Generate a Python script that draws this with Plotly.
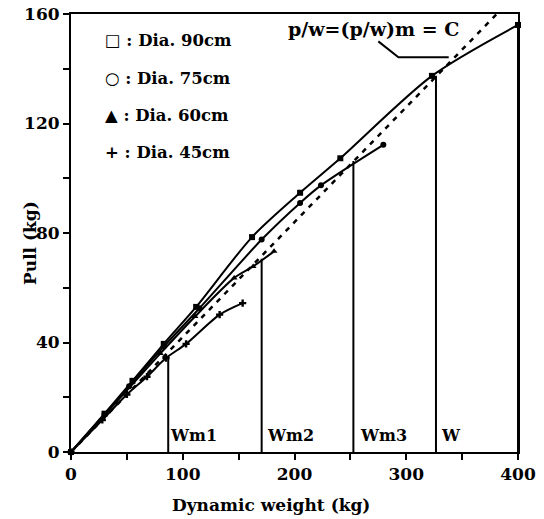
import plotly.graph_objects as go

# ---- data ----
dia90_x = [0, 30, 55, 83, 112, 162, 205, 241, 323, 400]
dia90_y = [0, 14, 26, 39.5, 53, 78.5, 94.7, 107.3, 137.4, 156]

dia75_x = [0, 30, 52, 83, 115, 170.6, 205, 223.7, 279.5]
dia75_y = [0, 13.8, 24, 38.5, 52.5, 77.6, 91, 97.4, 112.2]

dia60_x = [0, 40, 80, 111, 146, 163, 181.7]
dia60_y = [0, 18, 36, 49.5, 63.6, 67.8, 73.3]

dia45_x = [0, 28, 50, 68, 85, 103, 133, 153.6]
dia45_y = [0, 11.7, 21, 27.5, 34.3, 39.5, 50.2, 54.4]

c_x = [0, 381]
c_y = [0, 160]

wm_x = [87, 170.6, 252.7, 326.6, 400]
wm_top = [35, 70.6, 106.3, 137.4, 156]
wm_labels = ["Wm1", "Wm2", "Wm3", "W"]
wm_label_x = [90, 177, 259.5, 332]

leader_x = [275, 293, 338]
leader_y = [150, 144.2, 144.2]

legend_labels = ["\u25a1 : Dia. 90cm", "\u25cb : Dia. 75cm", "\u25b2 : Dia. 60cm", "+ : Dia. 45cm"]
legend_y = [150.2, 136.6, 123.1, 109.5]

x_ticks = [0, 50, 100, 150, 200, 250, 300, 350, 400]
x_ticktext = ["0", "", "100", "", "200", "", "300", "", "400"]
y_ticks = [0, 20, 40, 60, 80, 100, 120, 140, 160]
y_ticktext = ["0", "", "40", "", "80", "", "120", "", "160"]

FONT = "DejaVu Serif"

fig = go.Figure()

series = [
    (dia90_x, dia90_y, "square"),
    (dia75_x, dia75_y, "circle"),
    (dia60_x, dia60_y, "triangle-up"),
    (dia45_x, dia45_y, "cross"),
]
for xs, ys, sym in series:
    fig.add_trace(go.Scatter(
        x=xs, y=ys, mode="lines+markers",
        line=dict(color="black", width=2, shape="spline", smoothing=0.8),
        marker=dict(symbol=sym, size=6, color="black"),
        cliponaxis=False, showlegend=False, hoverinfo="skip"))

fig.add_trace(go.Scatter(
    x=c_x, y=c_y, mode="lines",
    line=dict(color="black", width=2.5, dash="5px,6px"),
    showlegend=False, hoverinfo="skip"))

for wx, wt in zip(wm_x, wm_top):
    fig.add_trace(go.Scatter(
        x=[wx, wx], y=[0, wt], mode="lines",
        line=dict(color="black", width=2),
        showlegend=False, hoverinfo="skip"))

fig.add_trace(go.Scatter(
    x=leader_x, y=leader_y, mode="lines",
    line=dict(color="black", width=2),
    showlegend=False, hoverinfo="skip"))

for lab, lx in zip(wm_labels, wm_label_x):
    fig.add_annotation(x=lx - 3, y=6, text="<b>" + lab + "</b>", showarrow=False, xanchor="left",
                       yanchor="middle", font=dict(family=FONT, size=16, color="black"))

for lab, ly in zip(legend_labels, legend_y):
    fig.add_annotation(x=29, y=ly, text="<b>" + lab + "</b>", showarrow=False, xanchor="left",
                       yanchor="middle", font=dict(family=FONT, size=16.5, color="black"))

fig.add_annotation(x=271, y=154.5, text="<b>p/w=(p/w)m = C</b>", showarrow=False,
                   xanchor="center", yanchor="middle",
                   font=dict(family=FONT, size=19, color="black"))

# axis titles as paper annotations
fig.add_annotation(xref="paper", yref="paper", x=(271 - 71) / 447, y=-(505 - 452) / 438,
                   text="<b>Dynamic weight (kg)</b>", showarrow=False,
                   xanchor="center", yanchor="middle",
                   font=dict(family=FONT, size=17, color="black"))
fig.add_annotation(xref="paper", yref="paper", x=-(71 - 30) / 447, y=(452 - 243) / 438,
                   text="<b>Pull (kg)</b>", showarrow=False, textangle=-90,
                   xanchor="center", yanchor="middle",
                   font=dict(family=FONT, size=17, color="black"))

fig.update_layout(
    width=544, height=519,
    margin=dict(l=71, r=26, t=14, b=67),
    paper_bgcolor="white", plot_bgcolor="white",
    font=dict(family=FONT, size=17, color="black"),
    xaxis=dict(range=[0, 400], tickvals=x_ticks, ticktext=x_ticktext,
               ticks="outside", ticklen=6, tickwidth=1.5, tickcolor="black",
               showline=True, linecolor="black", linewidth=2, mirror=True,
               showgrid=False, zeroline=False, automargin=False,
               tickfont=dict(family=FONT, size=17, weight="bold")),
    yaxis=dict(range=[0, 160], tickvals=y_ticks, ticktext=y_ticktext,
               ticks="outside", ticklen=6, tickwidth=1.5, tickcolor="black",
               showline=True, linecolor="black", linewidth=2, mirror=True,
               showgrid=False, zeroline=False, automargin=False,
               tickfont=dict(family=FONT, size=17, weight="bold")),
)

fig.write_html("out.html")
